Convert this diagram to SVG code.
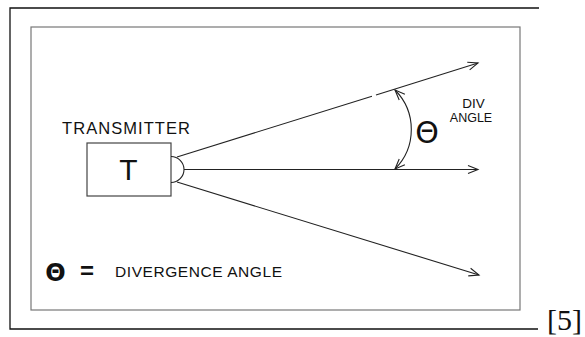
<svg xmlns="http://www.w3.org/2000/svg" width="585" height="337" viewBox="0 0 585 337">
<style>
  text { font-family: "Liberation Sans", Arial, sans-serif; fill: #111; }
  .frame { stroke: #111; stroke-width: 1.3; fill: none; }
  .inner { stroke: #777; stroke-width: 1.2; fill: none; }
  .ray { stroke: #222; stroke-width: 1.1; fill: none; }
  .box { stroke: #444; stroke-width: 1.2; fill: #fff; }
  .sym { font-family: "DejaVu Sans", sans-serif; }
</style>
<defs>
  <marker id="arr" viewBox="-12 -6 14 12" refX="0" refY="0" markerWidth="14" markerHeight="12" markerUnits="userSpaceOnUse" orient="auto-start-reverse">
    <path d="M-10,-4 L0,0 L-10,4" fill="none" stroke="#222" stroke-width="1.1"/>
  </marker>
</defs>
<rect width="585" height="337" fill="#fff"/>
<g id="frame">
  <path class="frame" d="M539,8 H10 V329 H538"/>
  <text x="547" y="330" style="font-family:'Liberation Serif','Times New Roman',serif;font-size:30px">[5]</text>
</g>
<g id="panel">
  <rect class="inner" x="31" y="27" width="489" height="283"/>
</g>
<g id="transmitter">
  <text x="62" y="134" font-size="16.5" textLength="128" lengthAdjust="spacing">TRANSMITTER</text>
  <rect class="box" x="87" y="143" width="84" height="53"/>
  <text x="128.5" y="180" font-size="30" text-anchor="middle">T</text>
  <path class="ray" d="M171,156.5 A13,13 0 0,1 171,182.5" stroke="#444"/>
</g>
<g id="connectors">
  <line class="ray" x1="177" y1="157" x2="372" y2="96.2"/>
  <line class="ray" x1="376" y1="95" x2="478" y2="63" marker-end="url(#arr)"/>
  <line class="ray" x1="184" y1="169.5" x2="478" y2="169.5" marker-end="url(#arr)"/>
  <line class="ray" x1="177" y1="182" x2="479" y2="275" marker-end="url(#arr)"/>
  <path class="ray" d="M395,90 A56,56 0 0,1 395,169" stroke="#444" marker-start="url(#arr)" marker-end="url(#arr)"/>
</g>
<g id="angle-label">
  <text class="sym" x="427" y="143" font-size="30" text-anchor="middle">Θ</text>
  <text x="473.5" y="108" font-size="13.5" text-anchor="middle">DIV</text>
  <text x="471" y="122" font-size="12.5" text-anchor="middle">ANGLE</text>
</g>
<g id="legend">
  <text class="sym" x="55.5" y="281" font-size="24" font-weight="bold" text-anchor="middle">Θ</text>
  <text x="87" y="279" font-size="24" font-weight="bold" text-anchor="middle">=</text>
  <text x="115" y="277" font-size="15.5" textLength="167" lengthAdjust="spacing">DIVERGENCE ANGLE</text>
</g>
</svg>
